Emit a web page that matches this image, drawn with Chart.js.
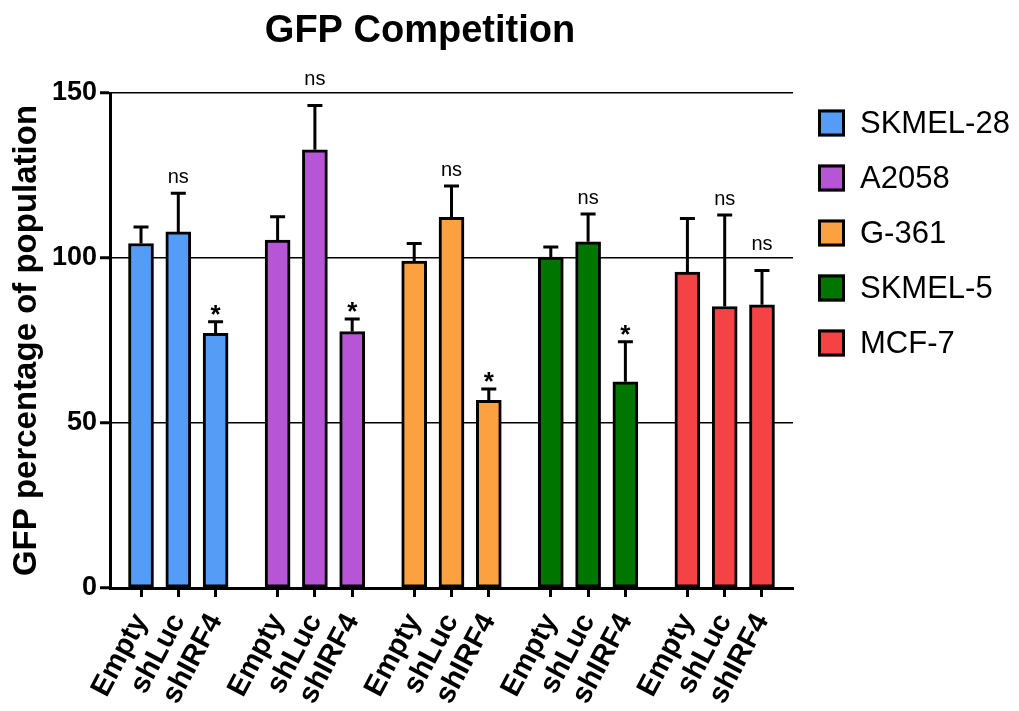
<!DOCTYPE html>
<html>
<head>
<meta charset="utf-8">
<script src="https://cdn.jsdelivr.net/npm/chart.js@4.4.0/dist/chart.umd.min.js"></script>
<style>
  html, body { margin: 0; padding: 0; background: #ffffff; }
  #wrap { width: 1019px; height: 711px; position: relative; }
</style>
</head>
<body>
<div id="wrap"><canvas id="chart" width="1019" height="711"></canvas></div>
<script>
// Cell lines, knockdown conditions and measured GFP percentages (mean, upper SEM)
const cellLines = ['SKMEL-28', 'A2058', 'G-361', 'SKMEL-5', 'MCF-7'];
const conditions = ['Empty', 'shLuc', 'shIRF4'];

const skmel28Mean = [104.4, 107.9, 77.2];
const a2058Mean   = [105.4, 132.8, 77.7];
const g361Mean    = [99.1, 112.3, 56.9];
const skmel5Mean  = [100.3, 104.9, 62.5];
const mcf7Mean    = [95.7, 85.3, 85.8];

const skmel28Err = [5.0, 11.7, 3.5];
const a2058Err   = [7.1, 13.4, 3.8];
const g361Err    = [5.3, 9.5, 3.4];
const skmel5Err  = [3.0, 8.4, 12.1];
const mcf7Err    = [16.3, 27.7, 10.4];

const skmel28Sig = ['', 'ns', '*'];
const a2058Sig   = ['', 'ns', '*'];
const g361Sig    = ['', 'ns', '*'];
const skmel5Sig  = ['', 'ns', '*'];
const mcf7Sig    = ['', 'ns', 'ns'];

const yTicks = [0, 50, 100, 150];

const means = [skmel28Mean, a2058Mean, g361Mean, skmel5Mean, mcf7Mean];
const errs = [skmel28Err, a2058Err, g361Err, skmel5Err, mcf7Err];
const sigs = [skmel28Sig, a2058Sig, g361Sig, skmel5Sig, mcf7Sig];
const colors = ['#559CF6', '#B656D6', '#FBA13F', '#007500', '#F54345'];

// spacing of the three bars inside each cell-line group (in group units)
const barStep = 0.273;
const barX = (g, i) => g + (i - 1) * barStep;

const FONT = "'Liberation Sans', Arial, Helvetica, sans-serif";
Chart.defaults.font.family = FONT;
Chart.defaults.color = '#000';

const datasets = cellLines.map((name, g) => ({
  label: name,
  data: means[g].map((v, i) => ({ x: barX(g, i), y: v })),
  backgroundColor: colors[g],
  borderColor: '#000',
  borderWidth: 3,
  borderSkipped: false,
  barThickness: 25,
  grouped: false
}));

const tickPositions = [];
cellLines.forEach((_, g) => conditions.forEach((_, i) => tickPositions.push(barX(g, i))));

// upward error bars with caps, plus significance marks above them
const errorBars = {
  id: 'errorBars',
  afterDatasetsDraw(chart) {
    const { ctx, scales: { y } } = chart;
    const gridYs = yTicks.filter(t => t > 0).map(t => y.getPixelForValue(t));
    ctx.save();
    ctx.strokeStyle = '#000';
    ctx.fillStyle = '#000';
    ctx.lineWidth = 3;
    chart.data.datasets.forEach((ds, g) => {
      const meta = chart.getDatasetMeta(g);
      meta.data.forEach((bar, i) => {
        const top = y.getPixelForValue(means[g][i] + errs[g][i]);
        const base = y.getPixelForValue(means[g][i]);
        ctx.beginPath();
        ctx.moveTo(bar.x, base);
        ctx.lineTo(bar.x, top);
        ctx.moveTo(bar.x - 7.5, top);
        ctx.lineTo(bar.x + 7.5, top);
        ctx.stroke();

        const s = sigs[g][i];
        if (!s) return;
        ctx.textAlign = 'center';
        ctx.textBaseline = 'alphabetic';
        if (s === 'ns') {
          ctx.font = '20px ' + FONT;
          let baseline = top - 10;
          const hit = gridYs.find(gy => gy >= baseline - 14 && gy <= baseline + 2);
          if (hit !== undefined) baseline = hit - 8;
          ctx.fillText(s, bar.x, baseline);
        } else {
          ctx.font = 'bold 26px ' + FONT;
          ctx.fillText(s, bar.x, top + 1);
        }
      });
    });
    ctx.restore();
  }
};

// title and the cell-line key on the right
const decorations = {
  id: 'decorations',
  afterDraw(chart) {
    const { ctx } = chart;
    ctx.save();
    ctx.fillStyle = '#000';
    ctx.font = 'bold 38px ' + FONT;
    ctx.textAlign = 'center';
    ctx.textBaseline = 'alphabetic';
    ctx.fillText('GFP Competition', 420, 42);

    ctx.font = '31px ' + FONT;
    ctx.textAlign = 'left';
    ctx.textBaseline = 'middle';
    chart.data.datasets.forEach((ds, g) => {
      const cy = 123 + g * 55;
      ctx.fillStyle = ds.backgroundColor;
      ctx.fillRect(818, cy - 13.5, 27, 27);
      ctx.strokeStyle = '#000';
      ctx.lineWidth = 3;
      ctx.strokeRect(819.5, cy - 12, 24, 24);
      ctx.fillStyle = '#000';
      ctx.fillText(ds.label, 860, cy + 1);
    });
    ctx.restore();
  }
};

new Chart(document.getElementById('chart'), {
  type: 'bar',
  data: { datasets },
  options: {
    responsive: false,
    animation: false,
    layout: { padding: { top: 93, right: 226, bottom: 0, left: 0 } },
    plugins: {
      legend: { display: false },
      title: { display: false },
      tooltip: { enabled: false }
    },
    scales: {
      x: {
        type: 'linear',
        min: -0.5,
        max: 4.5,
        offset: false,
        afterBuildTicks(scale) {
          scale.ticks = tickPositions.map(v => ({ value: v }));
        },
        afterFit(scale) { scale.height = 123; },
        ticks: {
          autoSkip: false,
          maxRotation: 62,
          minRotation: 62,
          padding: 11,
          font: { size: 29, weight: 'bold' },
          color: '#000',
          callback: (v, i) => conditions[i % conditions.length]
        },
        grid: {
          offset: false,
          drawOnChartArea: false,
          drawTicks: true,
          tickLength: 9,
          tickWidth: 3,
          tickColor: '#000'
        },
        border: { display: true, color: '#000', width: 3 }
      },
      y: {
        min: 0,
        max: 150,
        afterBuildTicks(scale) {
          scale.ticks = yTicks.map(v => ({ value: v }));
        },
        afterFit(scale) { scale.width = 110; },
        ticks: {
          padding: 3,
          font: { size: 27, weight: 'bold' },
          color: '#000'
        },
        grid: {
          color: '#000',
          lineWidth: 1.5,
          drawTicks: true,
          tickLength: 10,
          tickWidth: 3,
          tickColor: '#000'
        },
        border: { display: true, color: '#000', width: 3 },
        title: {
          display: true,
          text: 'GFP percentage of population',
          font: { size: 33, weight: 'bold' },
          color: '#000',
          padding: { top: 7, bottom: 0 }
        }
      }
    }
  },
  plugins: [errorBars, decorations]
});
</script>
</body>
</html>
